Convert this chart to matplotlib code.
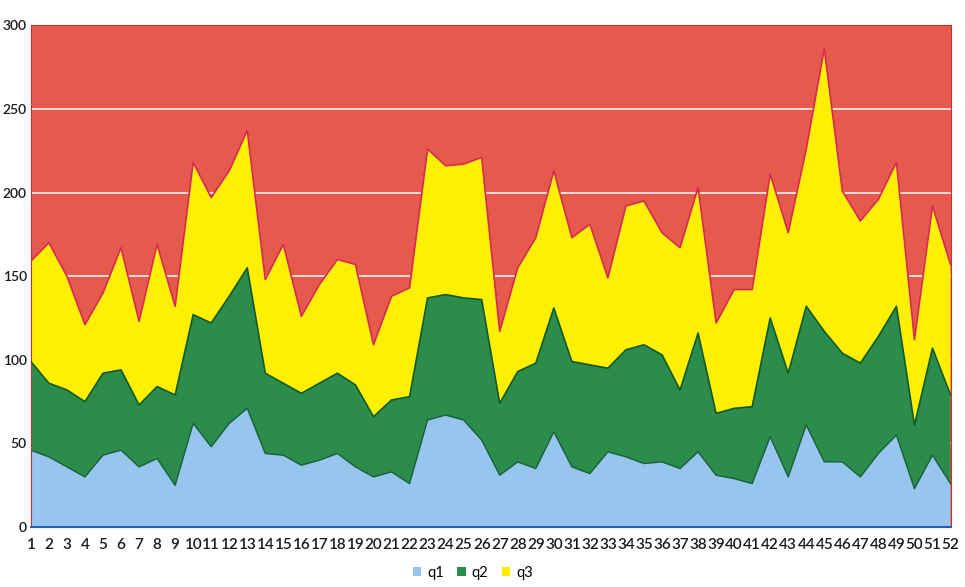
import numpy as np
import matplotlib
matplotlib.use("Agg")
import matplotlib.pyplot as plt

plt.rcParams['font.family'] = ['Lato', 'DejaVu Sans']

weeks = list(range(1, 53))
q1 = [46, 42, 36, 30, 43, 46, 36, 41, 25, 62, 48, 62, 71, 44, 43, 37, 40, 44, 36, 30,
      33, 26, 64, 67, 64, 52, 31, 39, 35, 57, 36, 32, 45, 42, 38, 39, 35, 45, 31, 29,
      26, 54, 30, 61, 39, 39, 30, 44, 55, 23, 43, 26]
q2 = [53, 44, 46, 45, 49, 48, 37, 43, 54, 65, 74, 76, 84, 48, 43, 43, 46, 48, 49, 36,
      43, 52, 73, 72, 73, 84, 43, 54, 63, 74, 63, 65, 50, 64, 71, 64, 47, 71, 37, 42,
      46, 71, 62, 71, 78, 65, 68, 70, 77, 38, 64, 53]
q3 = [60, 84, 68, 46, 48, 73, 50, 85, 53, 91, 75, 75, 82, 56, 83, 46, 59, 68, 72, 43,
      62, 65, 89, 77, 80, 85, 43, 62, 75, 82, 74, 84, 54, 86, 86, 73, 85, 87, 54, 71,
      70, 86, 84, 94, 169, 97, 85, 82, 86, 51, 85, 78]
series_names = ['q1', 'q2', 'q3']
colors = ['#96C6EE', '#2C8C4C', '#FFEF00']

fig = plt.figure(figsize=(9.65, 5.87), dpi=100)
ax = fig.add_axes([0.032, 0.102, 0.953, 0.855])
ax.set_facecolor('#E65A4E')

ax.stackplot(weeks, q1, q2, q3, colors=colors, labels=series_names,
             linewidth=0, zorder=2)

c1 = np.array(q1)
c2 = c1 + np.array(q2)
c3 = c2 + np.array(q3)
ax.plot(weeks, c3, color='#D42A55', lw=1.2, zorder=3)
ax.plot(weeks, c2, color='#0F5A2A', lw=1.2, zorder=3)
ax.plot(weeks, c1, color='#17603A', lw=1.0, zorder=3)

ax.set_xlim(1, 52)
ax.set_ylim(0, 300)
ax.set_xticks(weeks)
ax.set_yticks(range(0, 301, 50))
ax.grid(axis='y', color='#F6E6E2', lw=1.3, zorder=1)
ax.set_axisbelow(True)
ax.tick_params(axis='x', length=0, labelsize=11, colors='#1a1a1a', pad=8)
ax.tick_params(axis='y', length=0, labelsize=10, colors='#1a1a1a', pad=3)
for lab in ax.get_xticklabels() + ax.get_yticklabels():
    lab.set_fontweight('semibold')

for side in ['top', 'left', 'right']:
    ax.spines[side].set_color('#C8302A')
ax.spines['bottom'].set_color('#2A5FB0')
ax.spines['bottom'].set_linewidth(1.5)

fig.legend(loc='lower center', ncol=3, frameon=False, fontsize=10.5,
           handlelength=0.6, handleheight=0.6, handletextpad=0.4,
           columnspacing=0.9, bbox_to_anchor=(0.49, -0.01))

fig.savefig('out.png', dpi=100)
